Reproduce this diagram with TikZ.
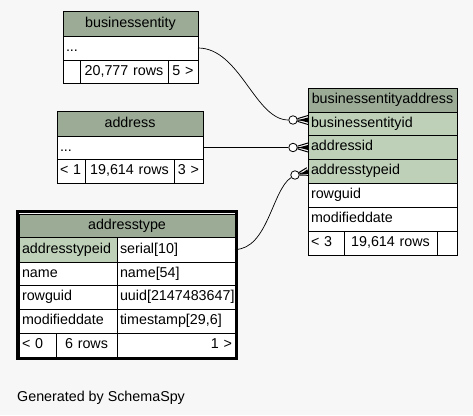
\documentclass[tikz,border=0pt]{standalone}
\usepackage{fontspec}
\setmainfont{Liberation Sans}
\usetikzlibrary{calc}
\definecolor{hdr}{HTML}{9BAB96}
\definecolor{keyc}{HTML}{BED1B8}
\definecolor{bg}{HTML}{F7F7F7}
\begin{document}
\begin{tikzpicture}[x=1pt,y=-1pt,
  font=\fontsize{14.3}{16}\selectfont,
  cell/.style n args={3}{draw=black, line width=1pt, anchor=north west,
    inner xsep=3pt, inner ysep=0pt, outer sep=0pt,
    text height=10pt, text depth=3pt, fill=white,
    text width=#1, minimum height=#2, align=#3},
  hcell/.style n args={2}{cell={#1}{#2}{center}, fill=hdr},
  kcell/.style n args={2}{cell={#1}{#2}{left}, fill=keyc},
  ring/.style={circle, draw=black, fill=white, line width=0.8pt, minimum size=8.5pt, inner sep=0pt},
  link/.style={draw=black, line width=0.7pt},
  crow/.style={draw=black, line width=1pt}]
\useasboundingbox (0,0) rectangle (473,415);
\fill[bg] (0,0) rectangle (473,415);

% businessentity
\node[hcell={129pt}{25pt}] (beh) at (63,11) {businessentity};
\node[cell={129pt}{24pt}{left}] (ber) at (63,36) {...};
\node[cell={11pt}{23pt}{left}] (bef1) at (63,60) {};
\node[cell={82pt}{23pt}{center}] (bef2) at (80,60) {20,777 rows};
\node[cell={24pt}{23pt}{center}] (bef3) at (168,60) {5 >};

% address
\node[hcell={140pt}{25pt}] (adh) at (57,111) {address};
\node[cell={140pt}{23pt}{left}] (adr) at (57,136) {...};
\node[cell={22pt}{24pt}{left}] (adf1) at (57,159) {< 1};
\node[cell={83pt}{24pt}{center}] (adf2) at (85,159) {19,614 rows};
\node[cell={23pt}{24pt}{center}] (adf3) at (174,159) {3 >};

% businessentityaddress
\node[hcell={143pt}{24pt}] (beah) at (308,88) {businessentityaddress};
\node[kcell={143pt}{23pt}] (bea1) at (308,112) {businessentityid};
\node[kcell={143pt}{24pt}] (bea2) at (308,135) {addressid};
\node[kcell={143pt}{24pt}] (bea3) at (308,159) {addresstypeid};
\node[cell={143pt}{24pt}{left}] (bea4) at (308,183) {rowguid};
\node[cell={143pt}{24pt}{left}] (bea5) at (308,207) {modifieddate};
\node[cell={30pt}{24pt}{left}] (beaf1) at (308,231) {< 3};
\node[cell={87pt}{24pt}{center}] (beaf2) at (344,231) {19,614 rows};
\node[cell={14pt}{24pt}{left}] (beaf3) at (437,231) {};

% addresstype
\node[hcell={210pt}{23pt}] (ath) at (19,214) {addresstype};
\node[kcell={92pt}{25pt}] (at1k) at (19,237) {addresstypeid};
\node[cell={112pt}{25pt}{left}] (at1v) at (117,237) {serial[10]};
\node[cell={92pt}{23pt}{left}] (at2k) at (19,262) {name};
\node[cell={112pt}{23pt}{left}] (at2v) at (117,262) {name[54]};
\node[cell={92pt}{24pt}{left}] (at3k) at (19,285) {rowguid};
\node[cell={112pt}{24pt}{left}] (at3v) at (117,285) {uuid[2147483647]};
\node[cell={92pt}{24pt}{left}] (at4k) at (19,309) {modifieddate};
\node[cell={112pt}{24pt}{left}] (at4v) at (117,309) {timestamp[29,6]};
\node[cell={31pt}{24pt}{left}] (atf1) at (19,333) {< 0};
\node[cell={55pt}{24pt}{center}] (atf2) at (56,333) {6 rows};
\node[cell={112pt}{24pt}{right}] (atf3) at (117,333) {1 >};
\draw[line width=3pt] (17.5,211.5) rectangle (236.5,358.5);

% relationship markers
\node[ring] (c1) at (293,120) {};
\node[ring] (c2) at (293,147.5) {};
\node[ring] (c3) at (295,175) {};
\coordinate (t3) at (308,171.5);

% connectors
\draw[link] (ber.east) .. controls (240,48) and (255,120) .. (c1);
\draw[link] (adr.east) -- (c2);
\draw[link] (at1v.east) .. controls (268,249) and (272,190) .. (c3);

% crow's feet
\draw[crow] (c1) -- ($(c1 -| bea1.west)+(0,-4.5)$)
            (c1) -- (c1 -| bea1.west)
            (c1) -- ($(c1 -| bea1.west)+(0,4.5)$);
\fill ($(c1.east)+(1,0)$) -- ($(c1 -| bea1.west)+(0,-2.5)$) -- ($(c1 -| bea1.west)+(0,2.5)$) -- cycle;
\draw[crow] (c2) -- ($(c2 -| bea2.west)+(0,-4.5)$)
            (c2) -- (c2 -| bea2.west)
            (c2) -- ($(c2 -| bea2.west)+(0,4.5)$);
\fill ($(c2.east)+(1,0)$) -- ($(c2 -| bea2.west)+(0,-2.5)$) -- ($(c2 -| bea2.west)+(0,2.5)$) -- cycle;
\draw[crow] (c3) -- ($(t3)+(1.2,3.8)$)
            (c3) -- (t3)
            (c3) -- ($(t3)+(-1.2,-3.8)$);
\fill ($(c3.east)+(1,-0.5)$) -- ($(t3)+(0.7,2.2)$) -- ($(t3)+(-0.7,-2.2)$) -- cycle;

\node[anchor=base west, inner sep=0pt] (gen) at (17,401) {Generated by SchemaSpy};
\end{tikzpicture}
\end{document}
